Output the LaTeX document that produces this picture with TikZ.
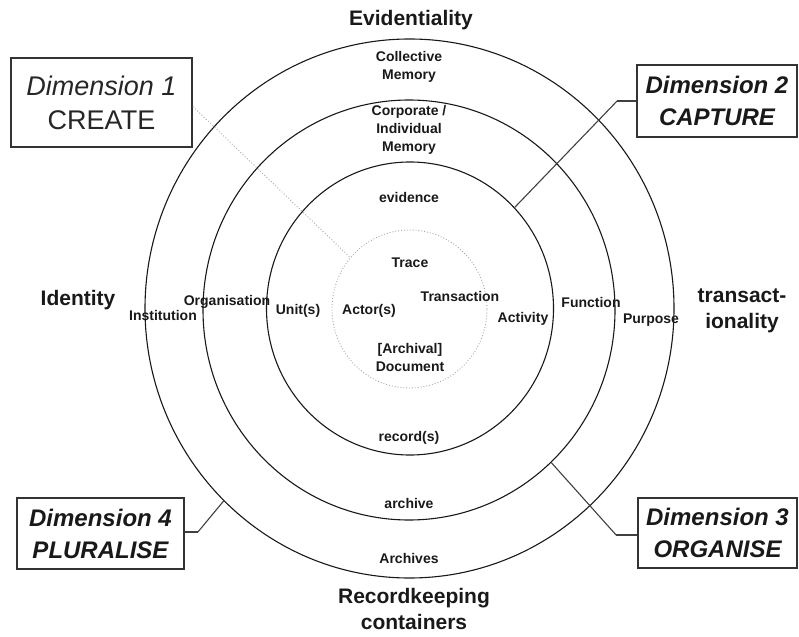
\documentclass[tikz,border=0pt]{standalone}
\usepackage{fontspec}
\setmainfont{Liberation Sans}
\usetikzlibrary{shapes.geometric}
\begin{document}
\begin{tikzpicture}[x=1pt,y=-1pt,
  ring/.style={draw=black!90, line width=1.1pt, ellipse, inner sep=0pt},
  core/.style={draw=black!35, line width=0.9pt, dotted, ellipse, inner sep=0pt},
  lbl/.style={font=\fontsize{14}{18}\selectfont\bfseries, text=black!90, align=center, inner sep=0pt},
  axislbl/.style={font=\fontsize{21}{26}\selectfont\bfseries, text=black!90, align=center, inner sep=0pt},
  dimbox/.style={draw=black!80, line width=1.8pt, align=center, inner sep=0pt, text=black!90,
    font=\fontsize{24}{32}\selectfont\bfseries\itshape},
  leader/.style={draw=black!75, line width=1.1pt},
  stub/.style={draw=black!75, line width=2pt},
  faint/.style={draw=black!30, line width=1pt, dotted}
]
\useasboundingbox (0,0) rectangle (799,636);

% concentric rings of the continuum
\node[ring, minimum width=529pt, minimum height=539pt] (c3) at (409.5,308.5) {};
\node[ring, minimum width=412pt, minimum height=420pt] (c2) at (409,310) {};
\node[ring, minimum width=287pt, minimum height=293pt] (c1) at (410,308.5) {};
\node[core, minimum width=155pt, minimum height=158pt] (c0) at (409.5,309) {};

% axis names
\node[axislbl] (evid) at (411,20) {Evidentiality};
\node[axislbl] (ident) at (78,300) {Identity};
\node[axislbl] (trans) at (742,311) {transact-\\ionality};
\node[axislbl] (rkc) at (414,609) {Recordkeeping\\containers};

% ring labels on the evidential axis
\node[lbl] (collective) at (409,67) {Collective\\Memory};
\node[lbl] (corporate) at (409,130) {Corporate /\\Individual\\Memory};
\node[lbl] (evidence) at (409,197) {evidence};
\node[lbl] (trace) at (410,263) {Trace};

% identity axis
\node[lbl] (institution) at (163,315) {Institution};
\node[lbl] (organisation) at (227,302) {Organisation};
\node[lbl] (unit) at (298,311) {Unit(s)};
\node[lbl] (actor) at (369,311) {Actor(s)};

% transactional axis
\node[lbl] (transaction) at (460,296) {Transaction};
\node[lbl] (activity) at (523,319) {Activity};
\node[lbl] (function) at (591,302) {Function};
\node[lbl] (purpose) at (651,320) {Purpose};

% recordkeeping containers axis
\node[lbl] (document) at (410,357) {[Archival]\\Document};
\node[lbl] (records) at (409,438) {record(s)};
\node[lbl] (archive) at (409,503) {archive};
\node[lbl] (archives) at (409,558) {Archives};

% dimension boxes
\node[dimbox, minimum width=181pt, minimum height=89pt,
  font=\fontsize{27}{34}\selectfont, text=black!85] (d1) at (101.5,102.5)
  {\textit{Dimension 1}\\CREATE};
\node[dimbox, minimum width=160pt, minimum height=72pt] (d2) at (717,101)
  {Dimension 2\\CAPTURE};
\node[dimbox, minimum width=159pt, minimum height=70pt] (d3) at (717.5,533)
  {Dimension 3\\ORGANISE};
\node[dimbox, minimum width=167pt, minimum height=71pt] (d4) at (100.5,533.5)
  {Dimension 4\\PLURALISE};

% leaders from the boxes to their rings
\draw[faint] ([yshift=-4pt]d1.east) -- (c0.139);
\draw[stub] (d2.west) -- ++(-19,0) coordinate (k2);
\draw[leader] (k2) -- (c1.44);
\draw[stub] ([yshift=-2pt]d3.west) -- ++(-21,0) coordinate (k3);
\draw[leader] (k3) -- (c2.-47.5);
\draw[stub] ([yshift=1.5pt]d4.east) -- ++(13,0) coordinate (k4);
\draw[leader] (k4) -- (c3.226.5);
\end{tikzpicture}
\end{document}
